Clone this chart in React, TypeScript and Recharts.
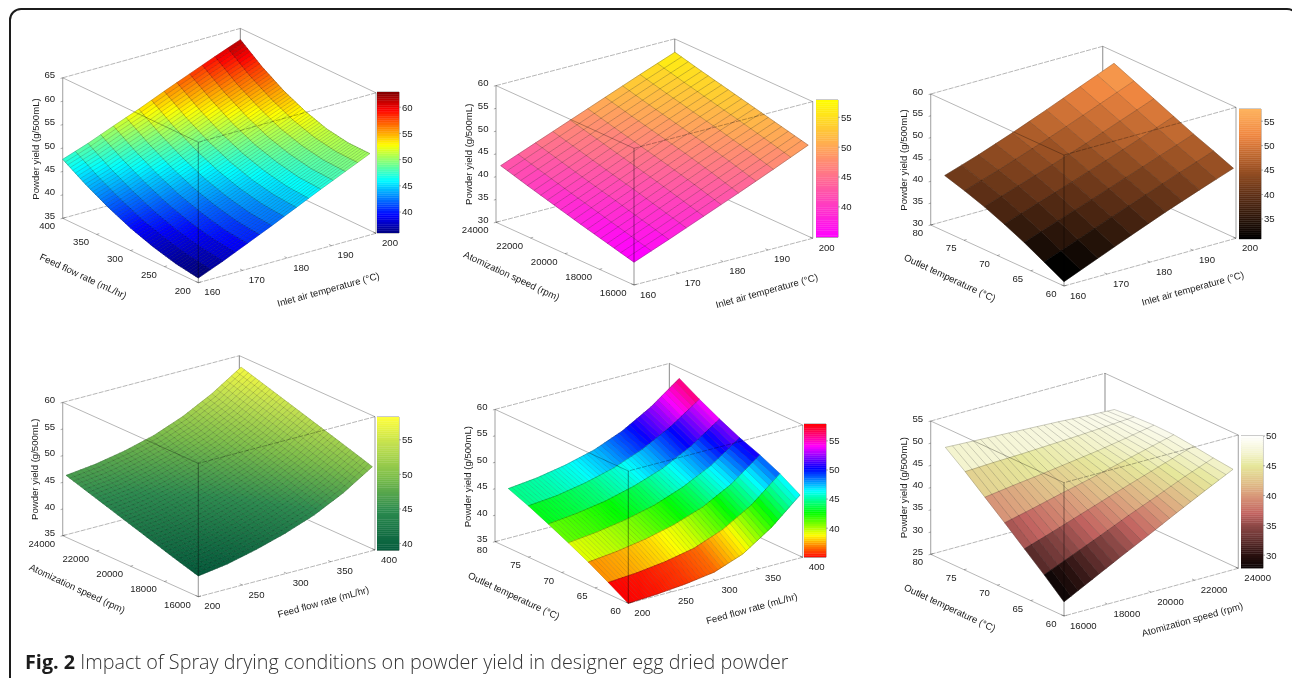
import React from "react";
import { ScatterChart, Scatter, XAxis, YAxis, BarChart, Bar, ReferenceArea } from "recharts";

// ---------- values ----------
const YIELD_TITLE = "Powder yield (g/500mL)";
const INLET_TITLE = "Inlet air temperature (°C)";
const FEED_TITLE = "Feed flow rate (mL/hr)";
const ATOM_TITLE = "Atomization speed (rpm)";
const OUTLET_TITLE = "Outlet temperature (°C)";
const CAPTION_HEAD = "Fig. 2";
const CAPTION_BODY = " Impact of Spray drying conditions on powder yield in designer egg dried powder";

const INLET_TICKS = [160, 170, 180, 190, 200];
const FEED_TICKS = [200, 250, 300, 350, 400];
const ATOM_TICKS = [16000, 18000, 20000, 22000, 24000];
const OUTLET_TICKS = [60, 65, 70, 75, 80];

const Z_TICKS_1 = [35, 40, 45, 50, 55, 60, 65];
const Z_TICKS_2 = [30, 35, 40, 45, 50, 55, 60];
const Z_TICKS_3 = [30, 35, 40, 45, 50, 55, 60];
const Z_TICKS_4 = [35, 40, 45, 50, 55, 60];
const Z_TICKS_5 = [35, 40, 45, 50, 55, 60];
const Z_TICKS_6 = [25, 30, 35, 40, 45, 50, 55];

const BAR_TICKS_1 = [40, 45, 50, 55, 60];
const BAR_TICKS_2 = [40, 45, 50, 55];
const BAR_TICKS_3 = [35, 40, 45, 50, 55];
const BAR_TICKS_4 = [40, 45, 50, 55];
const BAR_TICKS_5 = [40, 45, 50, 55];
const BAR_TICKS_6 = [30, 35, 40, 45, 50];

const BAR_RANGE_1 = [36, 62.9];
const BAR_RANGE_2 = [34.9, 57.9];
const BAR_RANGE_3 = [30.9, 57.5];
const BAR_RANGE_4 = [39, 58.3];
const BAR_RANGE_5 = [35, 57.9];
const BAR_RANGE_6 = [27.8, 50];

// Surface values: rows run along the left-hand axis, columns along the right-hand axis.
const Z_1 = [
  [36.0, 38.0, 40.2, 42.4, 44.7, 47.0, 49.2, 51.4],
  [36.8, 38.7, 40.8, 42.9, 45.1, 47.3, 49.4, 51.5],
  [38.1, 39.9, 42.0, 44.0, 46.1, 48.3, 50.3, 52.3],
  [39.8, 41.6, 43.6, 45.6, 47.7, 49.8, 51.8, 53.9],
  [42.0, 43.8, 45.8, 47.8, 49.9, 52.0, 54.1, 56.1],
  [44.6, 46.4, 48.5, 50.5, 52.7, 54.9, 56.9, 59.0],
  [47.6, 49.5, 51.7, 53.8, 56.1, 58.3, 60.5, 62.6],
];
const Z_2 = [
  [35.0, 38.0, 41.1, 44.2, 47.4, 50.7],
  [36.5, 39.6, 42.8, 46.0, 49.1, 52.1],
  [38.0, 41.2, 44.4, 47.6, 50.6, 53.5],
  [39.6, 42.7, 45.9, 49.0, 52.0, 54.9],
  [41.2, 44.3, 47.4, 50.4, 53.4, 56.3],
  [42.9, 45.9, 48.9, 51.9, 54.9, 57.8],
];
const Z_3 = [
  [31.0, 34.2, 37.4, 40.5, 43.4, 46.2],
  [33.4, 36.4, 39.4, 42.3, 45.2, 48.0],
  [35.8, 38.6, 41.3, 44.1, 46.9, 49.7],
  [37.9, 40.6, 43.2, 45.9, 48.7, 51.6],
  [39.8, 42.4, 45.0, 47.7, 50.6, 53.5],
  [41.4, 43.9, 46.6, 49.4, 52.4, 55.4],
  [42.8, 45.3, 48.1, 51.1, 54.2, 57.3],
];
const Z_4 = [
  [38.9, 39.7, 41.0, 42.6, 44.6, 47.3, 50.75],
  [40.1, 40.9, 42.2, 43.8, 45.8, 48.6, 52.0],
  [41.4, 42.1, 43.4, 45.0, 47.0, 49.8, 53.2],
  [42.7, 43.3, 44.6, 46.1, 48.1, 50.9, 54.4],
  [44.0, 44.6, 45.7, 47.2, 49.2, 52.0, 55.6],
  [45.3, 45.9, 47.0, 48.4, 50.4, 53.2, 56.8],
  [46.6, 47.2, 48.2, 49.6, 51.7, 54.5, 58.0],
];
const Z_5 = [
  [35.0, 35.3, 35.8, 36.6, 38.6, 42.2, 46.9],
  [37.2, 37.6, 38.3, 39.4, 41.5, 44.7, 49.2],
  [39.3, 39.9, 40.8, 42.1, 44.0, 46.9, 51.0],
  [41.2, 41.8, 42.7, 44.0, 46.0, 48.7, 52.5],
  [43.0, 43.6, 44.5, 45.9, 47.8, 50.6, 54.3],
  [44.7, 45.2, 46.2, 47.6, 49.7, 52.6, 56.3],
  [46.2, 46.8, 47.8, 49.2, 51.4, 54.5, 58.5],
];
const Z_6 = [
  [28.2, 31.5, 34.8, 38.0, 41.3, 44.5, 47.6],
  [32.2, 34.9, 37.6, 40.4, 43.0, 45.7, 48.1],
  [36.0, 38.1, 40.3, 42.5, 44.6, 46.7, 48.7],
  [39.8, 41.3, 42.9, 44.4, 46.0, 47.6, 49.2],
  [43.5, 44.4, 45.2, 46.1, 47.0, 48.1, 49.3],
  [47.2, 47.5, 47.7, 48.0, 48.3, 48.7, 49.1],
  [50.6, 50.3, 50.0, 49.7, 49.4, 49.0, 48.7],
];

// Where each surface stops on its floor: [right-axis value, left-axis value] at four corners.
const EXTENT_1 = [[160, 200], [200, 209], [200, 400], [160, 400]];
const EXTENT_2 = [[160, 16000], [199, 16000], [199, 23730], [160, 23730]];
const EXTENT_3 = [[160, 60], [199.4, 60], [200, 78.3], [160, 77.9]];
const EXTENT_4 = [[200, 16000], [397, 16000], [400, 23900], [200, 23800]];
const EXTENT_5 = [[200, 60], [397, 60], [396, 78], [200, 78]];
const EXTENT_6 = [[16000, 60], [23760, 60], [23760, 77.8], [16000, 77.8]];

// ---------- colour maps ----------
type RGB = number[];
const css = (c: RGB) => `rgb(${c.map((v) => Math.round(Math.max(0, Math.min(255, v)))).join(",")})`;
const jet = (t: number): RGB => {
  const f = (a: number) => 255 * Math.max(0, Math.min(1, 1.5 - Math.abs(4 * t - a)));
  return [f(3), f(2), f(1)];
};
const hsv = (t: number): RGB => {
  const h = t * 6;
  const x = 1 - Math.abs((h % 2) - 1);
  const s = Math.floor(h) % 6;
  const m = [[1, x, 0], [x, 1, 0], [0, 1, x], [0, x, 1], [x, 0, 1], [1, 0, x]][s];
  return m.map((v) => v * 255);
};
const spring = (t: number): RGB => [255, 255 * t, 255 * (1 - t)];
const stops = (s: [number, RGB][]) => (t: number): RGB => {
  for (let i = 1; i < s.length; i++) {
    if (t <= s[i][0]) {
      const k = (t - s[i - 1][0]) / (s[i][0] - s[i - 1][0]);
      return s[i][1].map((_, n) => s[i - 1][1][n] + k * (s[i][1][n] - s[i - 1][1][n]));
    }
  }
  return s[s.length - 1][1];
};
const copper = stops([[0, [0, 0, 0]], [0.34, [95, 48, 22]], [0.55, [160, 85, 38]], [0.8, [240, 135, 65]], [1, [255, 180, 95]]]);
const greens = stops([[0, [5, 92, 60]], [0.3, [45, 140, 80]], [0.55, [125, 190, 75]], [0.8, [195, 225, 80]], [1, [255, 255, 60]]]);
const tans = stops([
  [0, [10, 5, 5]], [0.1, [42, 18, 16]], [0.234, [106, 52, 51]], [0.324, [143, 74, 72]], [0.414, [194, 99, 96]],
  [0.55, [217, 153, 122]], [0.64, [224, 189, 136]], [0.775, [230, 231, 155]], [0.865, [243, 243, 204]], [1, [255, 255, 255]],
]);

// ---------- layout ----------
const PANELS = [
  {
    id: 1, origin: [0, 0], F: [198.3, 282.7], L: [62.7, 218.3], R: [376, 233.3], H: 140.5,
    xTicks: INLET_TICKS, yTicks: FEED_TICKS, zTicks: Z_TICKS_1, xTitle: INLET_TITLE, yTitle: FEED_TITLE,
    xT: [328.3, 289.3], yT: [83.3, 276], zT: [35, 149], z: Z_1, ext: EXTENT_1, cmap: jet,
    xSub: 2, ySub: 9, xA: 0.42, yA: 0.3, bar: [377, 92.3, 133], barH: 141, range: BAR_RANGE_1, barTicks: BAR_TICKS_1,
  },
  {
    id: 2, origin: [430, 0], F: [634, 285], L: [496, 222.3], R: [812.7, 238.3], H: 136.7,
    xTicks: INLET_TICKS, yTicks: ATOM_TICKS, zTicks: Z_TICKS_2, xTitle: INLET_TITLE, yTitle: ATOM_TITLE,
    xT: [766.7, 290.7], yT: [511.7, 275.7], zT: [468.3, 154.3], z: Z_2, ext: EXTENT_2, cmap: spring,
    xSub: 2, ySub: 4, xA: 0.38, yA: 0.38, bar: [816, 100, 133], barH: 137.3, range: BAR_RANGE_2, barTicks: BAR_TICKS_2,
  },
  {
    id: 3, origin: [860, 0], F: [1064, 286], L: [930.7, 225], R: [1236, 238.3], H: 131,
    xTicks: INLET_TICKS, yTicks: OUTLET_TICKS, zTicks: Z_TICKS_3, xTitle: INLET_TITLE, yTitle: OUTLET_TITLE,
    xT: [1192.7, 288.3], yT: [950, 277.7], zT: [903.3, 160], z: Z_3, ext: EXTENT_3, cmap: copper,
    xSub: 2, ySub: 1, xA: 0.3, yA: 0.3, bar: [1239.3, 109.3, 130], barH: 130, range: BAR_RANGE_3, barTicks: BAR_TICKS_3,
  },
  {
    id: 4, origin: [0, 340], F: [198.3, 596.7], L: [62.7, 535.7], R: [375, 550], H: 133.3,
    xTicks: FEED_TICKS, yTicks: ATOM_TICKS, zTicks: Z_TICKS_4, xTitle: FEED_TITLE, yTitle: ATOM_TITLE,
    xT: [323.3, 601.7], yT: [77.3, 588.3], zT: [34.3, 469.3], z: Z_4, ext: EXTENT_4, cmap: greens,
    xSub: 6, ySub: 6, xA: 0.26, yA: 0.3, bar: [377, 417.3, 133], barH: 133.4, range: BAR_RANGE_4, barTicks: BAR_TICKS_4,
  },
  {
    id: 5, origin: [430, 340], F: [628.3, 603.3], L: [495, 541.7], R: [802.7, 557.3], H: 132.3,
    xTicks: FEED_TICKS, yTicks: OUTLET_TICKS, zTicks: Z_TICKS_5, xTitle: FEED_TITLE, yTitle: OUTLET_TITLE,
    xT: [751.7, 608.3], yT: [514, 595.7], zT: [467.7, 476.7], z: Z_5, ext: EXTENT_5, cmap: hsv,
    xSub: 8, ySub: 1, xA: 0.22, yA: 0.42, bar: [804, 424, 133], barH: 133.3, range: BAR_RANGE_5, barTicks: BAR_TICKS_5,
  },
  {
    id: 6, origin: [860, 340], F: [1064, 616], L: [930.7, 554.3], R: [1238.3, 568.3], H: 133.3,
    xTicks: ATOM_TICKS, yTicks: OUTLET_TICKS, zTicks: Z_TICKS_6, xTitle: ATOM_TITLE, yTitle: OUTLET_TITLE,
    xT: [1192.3, 619.3], yT: [950, 607.7], zT: [903.3, 487.7], z: Z_6, ext: EXTENT_6, cmap: tans,
    xSub: 4, ySub: 1, xA: 0.3, yA: 0.32, bar: [1240.7, 436, 132], barH: 132.3, range: BAR_RANGE_6, barTicks: BAR_TICKS_6,
  },
];

const CHART_W = 432;
const CHART_H = 338;
const FONT = "'Liberation Sans', Arial, sans-serif";
const FONT_SIZE = 9.6;
const TEXT_FILL = "#222";
const BAR_PAD = 7;

type Panel = (typeof PANELS)[number];

const span = (t: number[]) => [t[0], t[t.length - 1]];

// Parallel projection of the box: fractions along each axis to chart pixels.
const frac = (p: Panel, fx: number, fy: number, fz: number) => ({
  u: p.F[0] + fx * (p.R[0] - p.F[0]) + fy * (p.L[0] - p.F[0]) - p.origin[0],
  v: p.F[1] + fx * (p.R[1] - p.F[1]) + fy * (p.L[1] - p.F[1]) - fz * p.H - p.origin[1],
});

const zAt = (p: Panel, s: number, t: number) => {
  const nx = p.z[0].length - 1;
  const ny = p.z.length - 1;
  const i = Math.min(nx - 1, Math.floor(s * nx));
  const j = Math.min(ny - 1, Math.floor(t * ny));
  const a = s * nx - i;
  const b = t * ny - j;
  return (
    p.z[j][i] * (1 - a) * (1 - b) + p.z[j][i + 1] * a * (1 - b) + p.z[j + 1][i + 1] * a * b + p.z[j + 1][i] * (1 - a) * b
  );
};

const surfacePoint = (p: Panel, s: number, t: number) => {
  const [A, B, C, D] = p.ext;
  const mix = (n: number) => A[n] * (1 - s) * (1 - t) + B[n] * s * (1 - t) + C[n] * s * t + D[n] * (1 - s) * t;
  const [x0, x1] = span(p.xTicks);
  const [y0, y1] = span(p.yTicks);
  const [z0, z1] = span(p.zTicks);
  return frac(p, (mix(0) - x0) / (x1 - x0), (mix(1) - y0) / (y1 - y0), (zAt(p, s, t) - z0) / (z1 - z0));
};

const colorOf = (p: Panel, z: number) => {
  const t = Math.max(0, Math.min(0.9999, (z - p.range[0]) / (p.range[1] - p.range[0])));
  return css(p.cmap(t));
};

// ---------- marks ----------
const SegmentShape = (props: any) => {
  const { cx, cy, payload: d } = props;
  const dx = cx - d.u;
  const dy = cy - d.v;
  return (
    <line
      x1={d.a.u + dx} y1={d.a.v + dy} x2={d.b.u + dx} y2={d.b.v + dy}
      stroke={d.color} strokeWidth={d.w} strokeDasharray={d.dash} strokeOpacity={d.op}
    />
  );
};

const LabelShape = (props: any) => {
  const { cx, cy, payload: d } = props;
  return (
    <text
      x={cx} y={cy} textAnchor={d.anchor} dominantBaseline="central" fontFamily={FONT} fontSize={FONT_SIZE} fill={TEXT_FILL}
      transform={d.rot ? `rotate(${d.rot} ${cx} ${cy})` : undefined}
    >
      {d.text}
    </text>
  );
};

// Flat shading: every facet takes the colour of its lowest corner index.
const FillShape = (p: Panel) => (props: any) => {
  const { cx, cy, payload: d } = props;
  const dx = cx - d.u;
  const dy = cy - d.v;
  const nx = p.z[0].length - 1;
  const ny = p.z.length - 1;
  const out: React.ReactNode[] = [];
  for (let a = 0; a < p.xSub; a++) {
    for (let b = 0; b < p.ySub; b++) {
      const s0 = (d.i + a / p.xSub) / nx;
      const s1 = (d.i + (a + 1) / p.xSub) / nx;
      const t0 = (d.j + b / p.ySub) / ny;
      const t1 = (d.j + (b + 1) / p.ySub) / ny;
      const pts = [surfacePoint(p, s0, t0), surfacePoint(p, s1, t0), surfacePoint(p, s1, t1), surfacePoint(p, s0, t1)];
      const col = colorOf(p, zAt(p, s0, t0));
      out.push(
        <polygon
          key={`${a}-${b}`}
          points={pts.map((q) => `${(q.u + dx).toFixed(2)},${(q.v + dy).toFixed(2)}`).join(" ")}
          fill={col} stroke={col} strokeWidth={0.5}
        />
      );
    }
  }
  return <g>{out}</g>;
};

const MeshShape = (p: Panel) => (props: any) => {
  const { cx, cy, payload: d } = props;
  const dx = cx - d.u;
  const dy = cy - d.v;
  const nx = p.z[0].length - 1;
  const ny = p.z.length - 1;
  const steps = 4;
  const path = (fn: (k: number) => { u: number; v: number }) => {
    let s = "";
    for (let k = 0; k <= steps; k++) {
      const q = fn(k / steps);
      s += `${k ? "L" : "M"}${(q.u + dx).toFixed(2)} ${(q.v + dy).toFixed(2)}`;
    }
    return s;
  };
  let xLines = "";
  let yLines = "";
  const lastX = d.i === nx - 1;
  const lastY = d.j === ny - 1;
  for (let a = 0; a <= (lastX ? p.xSub : p.xSub - 1); a++) {
    const s = (d.i + a / p.xSub) / nx;
    xLines += path((k) => surfacePoint(p, s, (d.j + k) / ny));
  }
  for (let b = 0; b <= (lastY ? p.ySub : p.ySub - 1); b++) {
    const t = (d.j + b / p.ySub) / ny;
    yLines += path((k) => surfacePoint(p, (d.i + k) / nx, t));
  }
  return (
    <g fill="none" stroke="#000" strokeWidth={0.6}>
      <path d={xLines} strokeOpacity={p.xA} />
      <path d={yLines} strokeOpacity={p.yA} />
    </g>
  );
};

const seg = (p: Panel, A: number[], B: number[], w: number, op: number, dash?: string) => {
  const a = frac(p, A[0], A[1], A[2]);
  const b = frac(p, B[0], B[1], B[2]);
  return { u: (a.u + b.u) / 2, v: (a.v + b.v) / 2, a, b, w, op, dash, color: "#000" };
};

const backLines = (p: Panel) => [
  seg(p, [0, 1, 0], [1, 1, 0], 0.8, 0.36, "5 1.2"),
  seg(p, [1, 0, 0], [1, 1, 0], 0.9, 0.32),
  seg(p, [1, 1, 0], [1, 1, 1], 1.2, 0.38),
  seg(p, [0, 1, 1], [1, 1, 1], 0.8, 0.36, "5 1.2"),
  seg(p, [1, 0, 1], [1, 1, 1], 0.9, 0.32),
  seg(p, [0, 1, 0], [0, 1, 1], 1.1, 0.34),
  seg(p, [1, 0, 0], [1, 0, 1], 1.1, 0.34),
];

const frontLines = (p: Panel) => [
  seg(p, [0, 1, 1], [0, 0, 1], 0.9, 0.32),
  seg(p, [1, 0, 1], [0, 0, 1], 0.8, 0.36, "5 1.2"),
  seg(p, [0, 0, 1], [0, 0, 0], 1.1, 0.38),
  seg(p, [0, 1, 0], [0, 0, 0], 0.9, 0.32),
  seg(p, [1, 0, 0], [0, 0, 0], 0.8, 0.36, "5 1.2"),
];

const fracOf = (t: number[], v: number) => (v - t[0]) / (t[t.length - 1] - t[0]);

const tickMarks = (p: Panel) => [
  ...p.xTicks.map((v) => seg(p, [fracOf(p.xTicks, v), 0, 0], [fracOf(p.xTicks, v), 0.02, 0], 0.7, 0.45)),
  ...p.yTicks.map((v) => seg(p, [0, fracOf(p.yTicks, v), 0], [0.015, fracOf(p.yTicks, v), 0], 0.7, 0.45)),
  ...p.zTicks.map((v) => seg(p, [0, 1, fracOf(p.zTicks, v)], [-0.012, 1, fracOf(p.zTicks, v)], 0.7, 0.45)),
];

const labels = (p: Panel) => {
  const at = (q: { u: number; v: number }, ox: number, oy: number) => ({ u: q.u + ox, v: q.v + oy });
  const abs = (c: number[]) => ({ u: c[0] - p.origin[0], v: c[1] - p.origin[1] });
  return [
    ...p.xTicks.map((v) => ({
      ...at(frac(p, fracOf(p.xTicks, v), 0, 0), 6, 9), text: String(v), anchor: "start",
    })),
    ...p.yTicks.map((v) => ({
      ...at(frac(p, 0, fracOf(p.yTicks, v), 0), -7.5, 7.5), text: String(v), anchor: "end",
    })),
    ...p.zTicks.map((v) => ({
      ...at(frac(p, 0, 1, fracOf(p.zTicks, v)), -7.5, -3), text: String(v), anchor: "end",
    })),
    { ...abs(p.xT), text: p.xTitle, anchor: "middle", rot: -15.5 },
    { ...abs(p.yT), text: p.yTitle, anchor: "middle", rot: 25 },
    { ...abs(p.zT), text: YIELD_TITLE, anchor: "middle", rot: -90 },
  ];
};

const cells = (p: Panel) => {
  const nx = p.z[0].length - 1;
  const ny = p.z.length - 1;
  const out: any[] = [];
  for (let j = ny - 1; j >= 0; j--) {
    for (let i = 0; i < nx; i++) {
      out.push({ ...surfacePoint(p, (i + 0.5) / nx, (j + 0.5) / ny), i, j });
    }
  }
  return out;
};

const Panel3D = ({ p }: { p: Panel }) => (
  <div style={{ position: "absolute", left: p.origin[0], top: p.origin[1] }}>
    <ScatterChart width={CHART_W} height={CHART_H} margin={{ top: 0, right: 0, bottom: 0, left: 0 }}>
      <XAxis type="number" dataKey="u" domain={[0, CHART_W]} hide allowDataOverflow />
      <YAxis type="number" dataKey="v" domain={[0, CHART_H]} reversed hide allowDataOverflow />
      <Scatter data={backLines(p)} shape={SegmentShape} isAnimationActive={false} />
      <Scatter data={cells(p)} shape={FillShape(p)} isAnimationActive={false} />
      <Scatter data={cells(p)} shape={MeshShape(p)} isAnimationActive={false} />
      <Scatter data={frontLines(p)} shape={SegmentShape} isAnimationActive={false} />
      <Scatter data={tickMarks(p)} shape={SegmentShape} isAnimationActive={false} />
      <Scatter data={labels(p)} shape={LabelShape} isAnimationActive={false} />
    </ScatterChart>
  </div>
);

const BAR_STEPS = 64;
const ColorBar = ({ p }: { p: Panel }) => {
  const [lo, hi] = p.range;
  const step = (hi - lo) / BAR_STEPS;
  const keys = Array.from({ length: BAR_STEPS }, (_, k) => `s${k}`);
  const row: Record<string, any> = { name: "bar", base: lo };
  keys.forEach((k) => (row[k] = step));
  return (
    <div style={{ position: "absolute", left: p.bar[0], top: p.bar[1] - BAR_PAD }}>
      <BarChart
        width={52} height={p.barH + 2 * BAR_PAD} data={[row]} margin={{ top: BAR_PAD, right: 0, bottom: BAR_PAD, left: 0 }}
        barCategoryGap={0} barGap={0}
      >
        <XAxis dataKey="name" hide />
        <YAxis
          orientation="right" type="number" domain={[lo, hi]} allowDataOverflow ticks={p.barTicks} width={30}
          axisLine={false} tickSize={2} tickMargin={1} interval={0}
          tick={{ fontFamily: FONT, fontSize: FONT_SIZE, fill: TEXT_FILL }} tickLine={{ stroke: "#777", strokeWidth: 0.6 }}
        />
        <Bar dataKey="base" stackId="c" fill="none" isAnimationActive={false} />
        {keys.map((k, n) => {
          const col = css(p.cmap((n + 0.5) / BAR_STEPS));
          return <Bar key={k} dataKey={k} stackId="c" fill={col} stroke={col} strokeWidth={0.4} isAnimationActive={false} />;
        })}
        <ReferenceArea y1={lo} y2={hi} fill="none" stroke="#9a9a9a" strokeWidth={1} ifOverflow="visible" isFront />
      </BarChart>
    </div>
  );
};

export default function App() {
  return (
    <div style={{ position: "fixed", left: 0, top: 0, width: 1292, height: 678, overflow: "hidden", background: "#fff", filter: "blur(0.35px)" }}>
      <div
        style={{
          position: "absolute", left: 9, top: 8, width: 1290, height: 720, boxSizing: "border-box",
          border: "2px solid #1c1c1c", borderRadius: 12,
        }}
      />
      {PANELS.map((p) => (
        <Panel3D key={p.id} p={p} />
      ))}
      {PANELS.map((p) => (
        <ColorBar key={p.id} p={p} />
      ))}
      <div
        style={{
          position: "absolute", left: 25, top: 650, whiteSpace: "nowrap", fontFamily: "'Open Sans', 'Noto Sans', sans-serif",
          fontSize: 19.8, fontWeight: 300, lineHeight: "24px", color: "#333",
        }}
      >
        <b style={{ color: "#1c1c1c", fontWeight: 700 }}>{CAPTION_HEAD}</b>
        {CAPTION_BODY}
      </div>
    </div>
  );
}
